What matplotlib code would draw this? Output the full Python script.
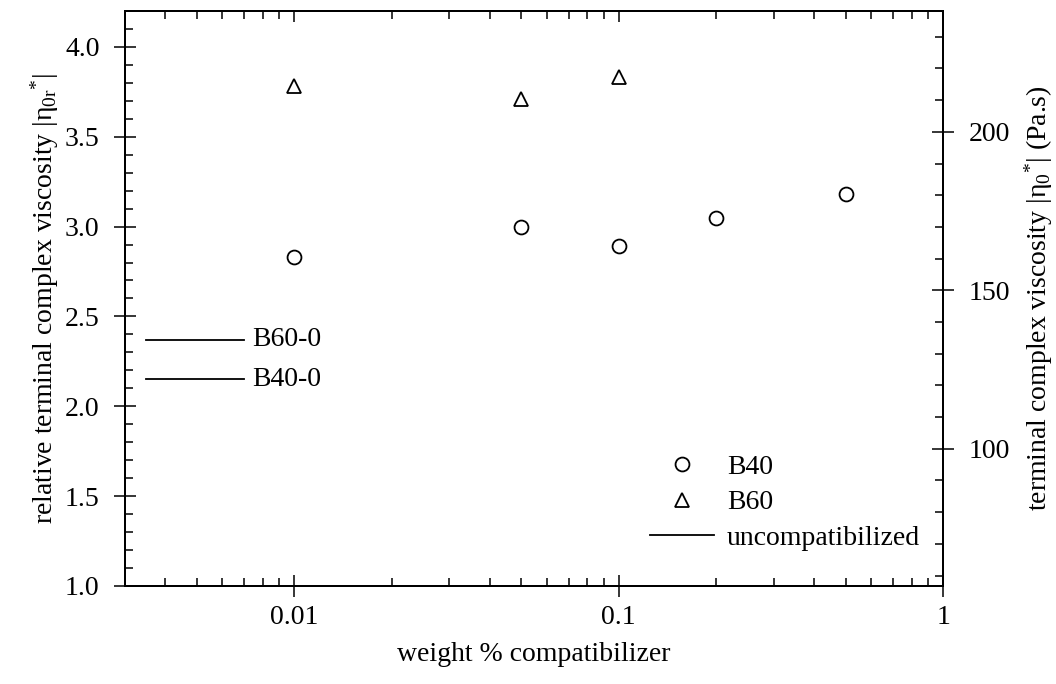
import matplotlib
matplotlib.use("Agg")
import matplotlib.pyplot as plt
from matplotlib.ticker import FixedLocator, NullFormatter, MultipleLocator

plt.rcParams["font.family"] = ["Liberation Serif", "DejaVu Serif"]
plt.rcParams["mathtext.fontset"] = "custom"
plt.rcParams["mathtext.rm"] = "Liberation Serif"
plt.rcParams["mathtext.it"] = "Liberation Serif"
plt.rcParams["mathtext.bf"] = "Liberation Serif:bold"

# data
b40_x = [0.01, 0.05, 0.1, 0.2, 0.5]
b40_y = [2.83, 3.00, 2.89, 3.05, 3.18]
b60_x = [0.01, 0.05, 0.1]
b60_y = [3.78, 3.71, 3.83]
ref_names = ["B60-0", "B40-0"]
ref_values = [2.37, 2.15]
ref_span = [0.0035, 0.007]
ref_label_x = 0.0074
eta_ref = 56.7  # Pa.s, factor between left and right axis

FS = 20
x_major = [0.01, 0.1, 1]
x_major_labels = ["0.01", "0.1", "1"]
x_minor = [m * 10.0 ** e for e in (-3, -2, -1) for m in range(2, 10)
           if 0.003 <= m * 10.0 ** e <= 1]

fig = plt.figure(figsize=(10.56, 6.84), dpi=100)
ax = fig.add_axes([0.118, 0.1433, 0.7753, 0.8407])

ax.plot(b40_x, b40_y, linestyle="none", marker="o", markersize=10,
        markerfacecolor="none", markeredgecolor="black", markeredgewidth=1.3,
        label="B40")
ax.plot(b60_x, b60_y, linestyle="none", marker="^", markersize=10,
        markerfacecolor="none", markeredgecolor="black", markeredgewidth=1.3,
        label="B60")
for i, (name, val) in enumerate(zip(ref_names, ref_values)):
    ax.plot(ref_span, [val, val], color="black", linewidth=1.3,
            label="uncompatibilized" if i == 0 else None)
    ax.text(ref_label_x, val, name, fontsize=FS, va="center", ha="left")

ax.set_xscale("log")
ax.set_xlim(0.003, 1)
ax.set_ylim(1.0, 4.2)
ax.set_xticks(x_major)
ax.set_xticklabels(x_major_labels)
ax.xaxis.set_minor_locator(FixedLocator(x_minor))
ax.xaxis.set_minor_formatter(NullFormatter())
ax.set_yticks([1.0, 1.5, 2.0, 2.5, 3.0, 3.5, 4.0])
ax.yaxis.set_minor_locator(MultipleLocator(0.1))

ax.tick_params(which="major", direction="inout", length=16, width=1.1, labelsize=FS,
               top=False, bottom=True, left=True, right=False)
ax.tick_params(which="minor", direction="in", length=6, width=1.1,
               top=False, bottom=True, left=True, right=False)
ax.tick_params(axis="x", which="major", pad=6)
ax.tick_params(axis="y", which="major", pad=10)
for s in ax.spines.values():
    s.set_linewidth(1.4)

# top axis: ticks pointing inward only
top = ax.secondary_xaxis("top")
top.set_xticks(x_major)
top.xaxis.set_minor_locator(FixedLocator(x_minor))
top.xaxis.set_minor_formatter(NullFormatter())
top.tick_params(which="major", direction="in", length=8, width=1.1, labeltop=False)
top.tick_params(which="minor", direction="in", length=6, width=1.1)
top.spines["top"].set_linewidth(1.4)

ax.set_xlabel("weight % compatibilizer", fontsize=FS, labelpad=8)
ax.set_ylabel(r"relative terminal complex viscosity |$\eta_{0r}{}^{*}$|", fontsize=FS,
              labelpad=3)

ax2 = ax.twinx()
ax2.set_ylim(1.0 * eta_ref, 4.2 * eta_ref)
ax2.set_yticks([100, 150, 200])
ax2.yaxis.set_minor_locator(MultipleLocator(10))
ax2.tick_params(which="major", direction="inout", length=16, width=1.1, labelsize=FS,
                pad=10)
ax2.tick_params(which="minor", direction="in", length=6, width=1.1)
ax2.set_ylabel(r"terminal complex viscosity |$\eta_{0}{}^{*}$| (Pa.s)", fontsize=FS,
               labelpad=9)
for s in ax2.spines.values():
    s.set_linewidth(1.4)

ax.legend(loc="lower left", bbox_to_anchor=(650 / 1056, 1 - 551 / 684),
          bbox_transform=fig.transFigure, frameon=False, fontsize=FS,
          borderpad=0, borderaxespad=0, handlelength=2.3, handletextpad=0.47,
          labelspacing=0.37)

fig.savefig("out.png", dpi=100)
